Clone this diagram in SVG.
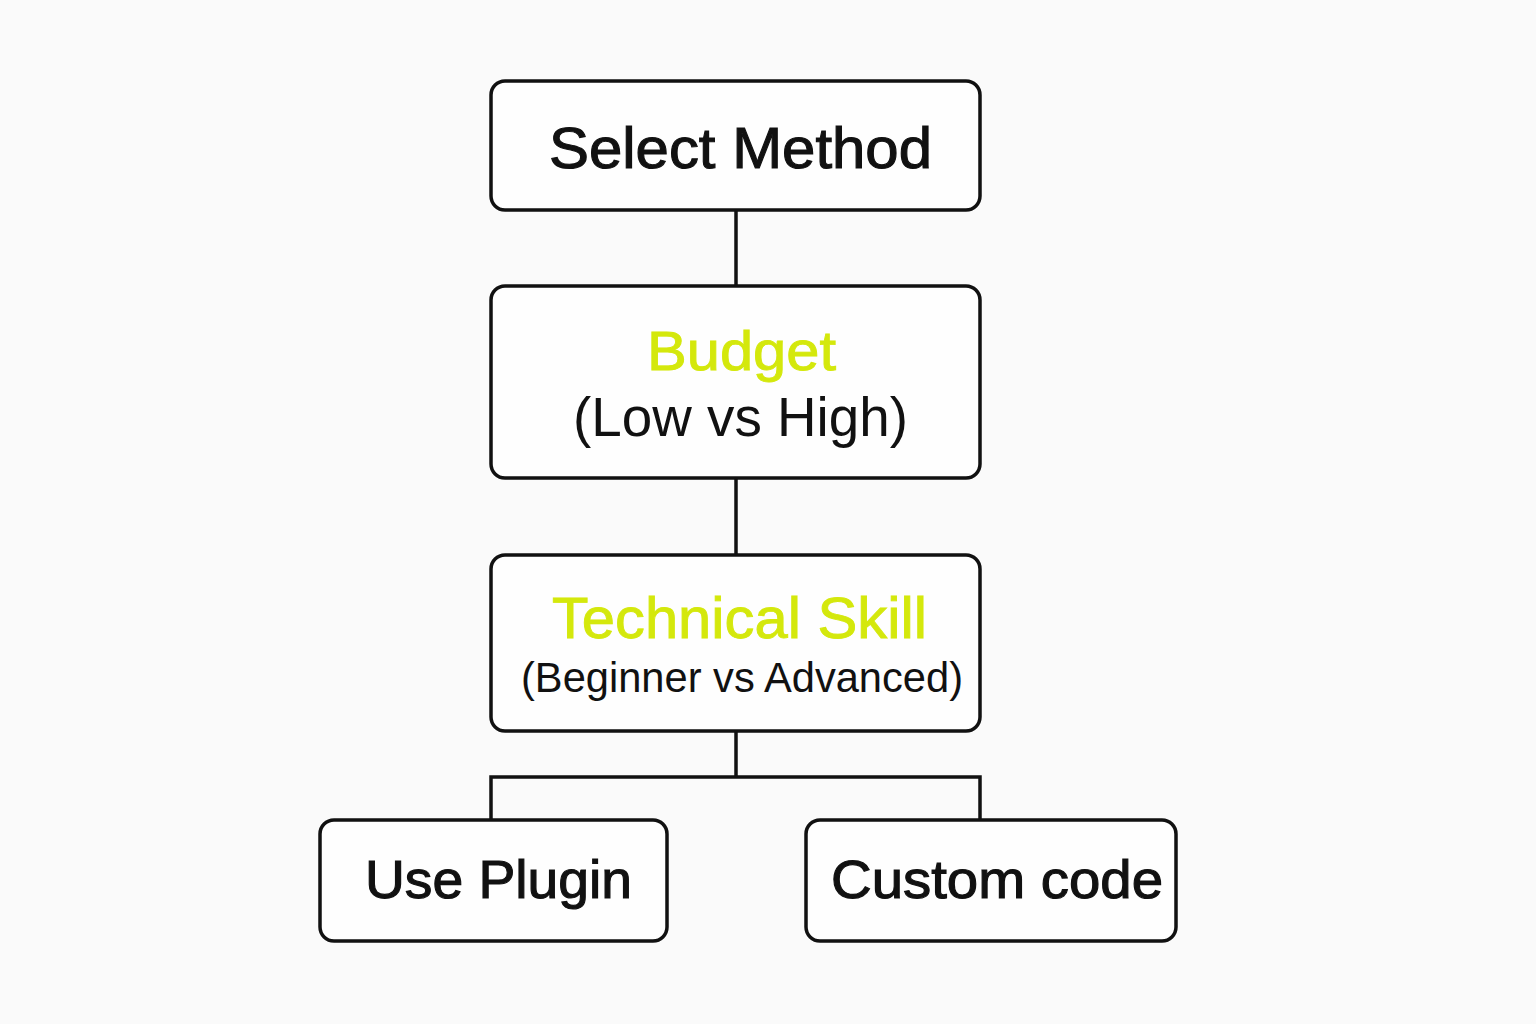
<svg xmlns="http://www.w3.org/2000/svg" width="1536" height="1024" viewBox="0 0 1536 1024">
<style>
.box{fill:#fefefe;stroke:#111;stroke-width:3.5}
.t{font-family:"Liberation Sans",Arial,sans-serif;text-anchor:middle;fill:#111}
.m{stroke:#111;stroke-width:1.1}
.hl{fill:#d4e80c;stroke:#d4e80c;stroke-width:0.9}
.conn{fill:none;stroke:#111;stroke-width:3.5}
</style>
<rect width="1536" height="1024" fill="#fafafa"/>
<g id="connectors">
<line class="conn" x1="736" y1="210" x2="736" y2="286"/>
<line class="conn" x1="736" y1="478" x2="736" y2="555"/>
<path class="conn" d="M736 731 V777 M491 820 V777 H980 V820"/>
</g>
<g id="select-method">
<rect class="box" x="491" y="81" width="489" height="129" rx="14"/>
<text class="t m" x="740.5" y="168" font-size="57" textLength="383" lengthAdjust="spacingAndGlyphs">Select Method</text>
</g>
<g id="budget">
<rect class="box" x="491" y="286" width="489" height="192" rx="14"/>
<text class="t hl" x="741.5" y="370" font-size="56" textLength="189" lengthAdjust="spacingAndGlyphs">Budget</text>
<text class="t" x="740.5" y="436" font-size="55" textLength="335" lengthAdjust="spacingAndGlyphs">(Low vs High)</text>
</g>
<g id="technical-skill">
<rect class="box" x="491" y="555" width="489" height="176" rx="14"/>
<text class="t hl" x="739.5" y="638" font-size="58" textLength="375" lengthAdjust="spacingAndGlyphs">Technical Skill</text>
<text class="t" x="742" y="692" font-size="42" textLength="442" lengthAdjust="spacingAndGlyphs">(Beginner vs Advanced)</text>
</g>
<g id="use-plugin">
<rect class="box" x="320" y="820" width="347" height="121" rx="14"/>
<text class="t m" x="498.5" y="898" font-size="53" textLength="267" lengthAdjust="spacingAndGlyphs">Use Plugin</text>
</g>
<g id="custom-code">
<rect class="box" x="806" y="820" width="370" height="121" rx="14"/>
<text class="t m" x="997" y="898" font-size="53" textLength="332" lengthAdjust="spacingAndGlyphs">Custom code</text>
</g>
</svg>
